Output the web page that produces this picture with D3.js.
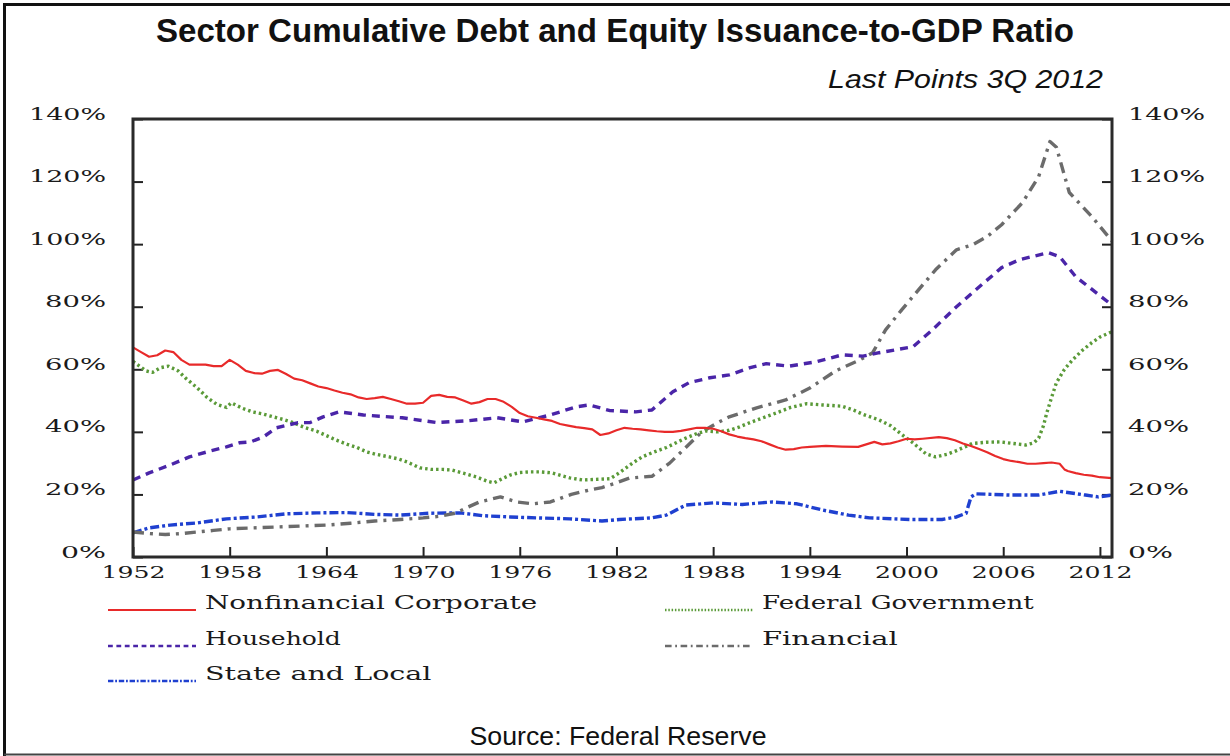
<!DOCTYPE html>
<html>
<head>
<meta charset="utf-8">
<script src="https://cdn.jsdelivr.net/npm/d3@7/dist/d3.min.js"></script>
<style>
  body { margin: 0; background: #fff; }
</style>
</head>
<body>
<div id="chart"></div>
<script>
// tick values
var yearTicks = [1952, 1958, 1964, 1970, 1976, 1982, 1988, 1994, 2000, 2006, 2012];
var pctTicks = [0, 20, 40, 60, 80, 100, 120, 140];

// series, [year, % of GDP]
var nonfinancial = [[1952,67],[1952.5,65.5],[1953,64],[1953.5,64.5],[1954,66],[1954.5,65.5],[1955,63],[1955.5,61.5],
  [1956,61.5],[1956.5,61.5],[1957,61],[1957.5,61],[1958,63],[1958.5,61.5],[1959,59.5],[1959.5,58.8],[1960,58.6],
  [1960.5,59.5],[1961,59.8],[1961.5,58.5],[1962,57],[1962.5,56.5],[1963,55.5],[1963.5,54.5],[1964,54],[1964.5,53.2],
  [1965,52.5],[1965.5,52],[1966,51],[1966.5,50.5],[1967,50.8],[1967.5,51.2],[1968,50.5],[1968.5,49.8],[1969,49],
  [1969.5,49],[1970,49.3],[1970.5,51.5],[1971,51.8],[1971.5,51.2],[1972,51],[1972.5,50],[1973,49],[1973.5,49.5],
  [1974,50.5],[1974.5,50.5],[1975,49.6],[1975.5,48],[1976,46],[1976.5,45],[1977,44.5],[1977.5,44],[1978,43.5],
  [1978.5,42.5],[1979,42],[1979.5,41.5],[1980,41.2],[1980.5,40.8],[1981,39],[1981.5,39.5],[1982,40.5],[1982.5,41.3],
  [1983,41],[1983.5,40.8],[1984,40.5],[1984.5,40.2],[1985,40],[1985.5,40],[1986,40.3],[1986.5,40.8],[1987,41.3],
  [1987.5,41.3],[1988,41],[1988.5,40.2],[1989,39.2],[1989.5,38.5],[1990,38],[1990.5,37.6],[1991,37],[1991.5,36],
  [1992,35],[1992.5,34.3],[1993,34.5],[1993.5,35],[1994,35.2],[1995,35.5],[1996,35.3],[1997,35.2],[1997.5,36],
  [1998,36.8],[1998.5,36],[1999,36.3],[1999.5,37],[2000,37.8],[2000.5,37.6],[2001,37.8],[2002,38.3],[2002.5,38],
  [2003,37.3],[2003.5,36.3],[2004,35.5],[2004.5,34.5],[2005,33.5],[2005.5,32.3],[2006,31.3],[2006.5,30.7],[2007,30.3],
  [2007.5,29.8],[2008,29.8],[2008.5,30],[2009,30.2],[2009.5,29.8],[2009.8,28],[2010,27.5],[2010.5,26.8],[2011,26.3],
  [2011.5,26],[2012,25.5],[2012.75,25.2]];

var federal = [[1952,62.5],[1952.4,61],[1952.8,59.5],[1953.2,59],[1953.7,60.5],[1954.2,61],[1954.8,59.5],[1955.3,57],
  [1956,54],[1956.6,51],[1957.2,48.8],[1957.8,47.8],[1958.1,49.3],[1958.8,47.5],[1959.4,46.4],[1960,45.8],[1960.7,44.8],
  [1961.3,44],[1961.9,43],[1962.6,41.5],[1963.4,40.2],[1964,38.8],[1964.6,37.4],[1965.3,36],[1965.9,35],[1966.5,33.6],
  [1967.1,32.8],[1967.9,32],[1968.5,31.3],[1969,30.4],[1969.8,28.5],[1970.5,28],[1971.2,28],[1971.8,27.8],[1972.5,26.8],
  [1973.3,25.6],[1974,24.2],[1974.4,23.7],[1974.9,25],[1975.4,26.2],[1976,27],[1976.6,27.2],[1977.3,27.2],[1978,26.9],
  [1978.6,26],[1979.1,25.3],[1979.9,24.6],[1980.7,24.8],[1981.6,25],[1982.2,27],[1983,30],[1983.6,32],[1984.3,33.5],
  [1985.1,35],[1985.7,36.5],[1986.3,38],[1987,39.5],[1987.6,40.3],[1988.3,40],[1989,40.5],[1989.6,41.5],[1990.3,43],
  [1991.1,44.5],[1991.9,46],[1992.8,47.8],[1993.8,49],[1994.8,48.6],[1996,48.2],[1996.7,47],[1997.3,45.6],[1998.3,43.8],
  [1999,42],[1999.5,40],[2000,38],[2000.4,36.5],[2001.2,33],[2001.8,32],[2002.5,32.8],[2003.1,34],[2004.1,36.3],
  [2005,36.7],[2005.8,36.8],[2006.6,36.3],[2007.4,35.8],[2007.9,36.5],[2008.2,38],[2008.5,42],[2008.7,46],[2009,51],
  [2009.3,55.7],[2009.8,60],[2010.3,63],[2010.9,66],[2011.5,68.5],[2012,70.3],[2012.75,72]];

var household = [[1952,24.6],[1953,26.9],[1954.3,29.4],[1955.5,32],[1956.8,33.9],[1957.8,35.2],[1958.6,36.5],
  [1959.3,36.8],[1960.1,38.4],[1960.9,41.3],[1962.2,42.9],[1963,43],[1963.8,44.8],[1964.8,46.4],[1966.3,45.4],
  [1967.3,45],[1968.7,44.5],[1970.8,43],[1972.7,43.5],[1974.6,44.5],[1976.2,43.2],[1977.9,45.4],[1979.5,48],
  [1980.3,48.6],[1981.6,46.8],[1983.2,46.4],[1984.2,47],[1985.5,52.8],[1986.5,55.7],[1987.8,57.3],[1989,58.2],
  [1990.3,60.5],[1991.3,61.8],[1992.7,61],[1994.4,62.4],[1996,64.6],[1997.3,64.2],[1998.3,65.3],[2000.4,67.2],
  [2001.6,72.6],[2003.1,80],[2004.3,85.4],[2005.9,92.5],[2007,95],[2008.8,97.3],[2009.5,96],[2010.5,89.6],[2012.75,80.5]];

var financial = [[1952,8],[1953,7.5],[1954,7.2],[1955,7.5],[1956,8],[1957,8.5],[1958,9],[1959.5,9.3],[1961,9.6],
  [1962.5,9.9],[1964,10.2],[1965.5,10.8],[1967,11.5],[1968.6,12],[1970,12.5],[1971,13],[1972,14],[1972.8,16],
  [1973.5,17.6],[1974.8,19.2],[1975.8,17.6],[1976.8,17],[1977.9,17.6],[1979.2,20],[1980.3,21.4],[1981.1,22.2],
  [1982,23.7],[1982.8,25.2],[1984.2,25.8],[1985.3,30],[1986.3,35],[1987.3,40],[1988.3,43],[1989,44.8],[1990.7,47.7],
  [1992.5,50.2],[1994,54],[1995.6,59.5],[1997.1,63],[1997.9,65.3],[1998.7,72.6],[1999.7,79],[2000.6,84.5],[2001.8,91.8],
  [2003.1,98.2],[2004.1,99.8],[2005,102.4],[2005.9,106.2],[2007.2,113.3],[2008.2,121.6],[2008.9,132.8],[2009.3,131],
  [2010.1,116.5],[2011.5,108.8],[2012.75,101]];

var stateLocal = [[1952,7.7],[1953,9.3],[1954.3,10.2],[1956,10.9],[1957.8,12.2],[1959.7,12.8],[1961.5,13.8],
  [1963.4,14.1],[1965.3,14.2],[1967.1,13.6],[1968.6,13.4],[1970.4,14],[1972.3,14.1],[1973.7,13.2],[1975.4,12.8],
  [1977,12.5],[1979.1,12.2],[1981.1,11.5],[1982.2,12],[1984.2,12.5],[1985.1,13.4],[1986.3,16.6],[1988,17.3],
  [1989.8,16.8],[1991.7,17.6],[1993.2,17],[1994.8,15],[1996.4,13.4],[1997.7,12.5],[2000.2,12],[2002.2,12],
  [2003.1,12.8],[2003.7,14],[2004,19.2],[2004.3,20.2],[2006.4,19.8],[2008.2,19.8],[2009.5,21],[2011.1,19.8],
  [2011.9,19.2],[2012.75,19.8]];

var seriesNames = ["Nonfinancial Corporate", "Federal Government", "Household", "Financial", "State and Local"];

// line styles for each series
var series = [
  {name: seriesNames[0], data: nonfinancial, color: "#e82a2a", dash: null,          w: 2.2, lx: 108, ly: 610},
  {name: seriesNames[1], data: federal,      color: "#5a9a38", dash: "2.5,3",       w: 3.4, lx: 665, ly: 610},
  {name: seriesNames[2], data: household,    color: "#4a25a8", dash: "8,6",         w: 3.4, lx: 108, ly: 646},
  {name: seriesNames[3], data: financial,    color: "#6b6b6b", dash: "11,6,3,6",    w: 3.4, lx: 665, ly: 646},
  {name: seriesNames[4], data: stateLocal,   color: "#1f40d0", dash: "9,3,3,3",     w: 3.4, lx: 108, ly: 681}
];

var margin = {top: 119, right: 118, bottom: 199, left: 133},
    width = 1230 - margin.left - margin.right,
    height = 756 - margin.top - margin.bottom;

var svg = d3.select("#chart")
  .append("svg")
    .attr("width", 1230)
    .attr("height", 756);

// outer frame (left, top, bottom)
svg.append("path")
  .attr("d", "M4.5,756 L4.5,4.5 L1230,4.5")
  .attr("fill", "none")
  .attr("stroke", "#111")
  .attr("stroke-width", 3);
svg.append("line")
  .attr("x1", 4).attr("x2", 1230).attr("y1", 754.5).attr("y2", 754.5)
  .attr("stroke", "#444").attr("stroke-width", 2);

// title
svg.append("text")
  .attr("x", 615).attr("y", 42)
  .attr("text-anchor", "middle")
  .attr("textLength", 918).attr("lengthAdjust", "spacingAndGlyphs")
  .style("font-family", "'Liberation Sans Narrow', 'Liberation Sans', Arial, sans-serif")
  .style("font-weight", "bold")
  .style("font-size", "34px")
  .style("fill", "#111")
  .text("Sector Cumulative Debt and Equity Issuance-to-GDP Ratio");

svg.append("text")
  .attr("x", 1103).attr("y", 88)
  .attr("text-anchor", "end")
  .attr("textLength", 275).attr("lengthAdjust", "spacingAndGlyphs")
  .style("font-family", "'Liberation Sans Narrow', 'Liberation Sans', Arial, sans-serif")
  .style("font-style", "italic")
  .style("font-size", "26px")
  .style("fill", "#111")
  .text("Last Points  3Q  2012");

var g = svg.append("g")
  .attr("transform", "translate(" + margin.left + "," + margin.top + ")");

var x = d3.scaleLinear()
  .domain([1952, 2012.75])
  .range([0, width]);

var y = d3.scaleLinear()
  .domain([0, 140])
  .range([height, 0]);

function labelLen(s) {
  var n = 0;
  for (var i = 0; i < s.length; i++) n += (s[i] == "%") ? 29 : 16;
  return n;
}

function styleAxis(sel) {
  sel.select(".domain").remove();
  sel.selectAll(".tick line").attr("stroke", "#222").attr("stroke-width", 2);
  sel.selectAll(".tick text")
    .attr("dy", 0)
    .attr("textLength", function() { return labelLen(this.textContent); })
    .attr("lengthAdjust", "spacingAndGlyphs")
    .style("font-family", "'DejaVu Serif', 'Liberation Serif', serif")
    .style("font-size", "17px")
    .style("fill", "#1a1a1a");
}

var fmtPct = function(d) { return d + "%"; };

// left axis
g.append("g")
  .call(d3.axisLeft(y).tickValues(pctTicks).tickFormat(fmtPct).tickSizeInner(-10).tickSizeOuter(0).tickPadding(27))
  .call(styleAxis);

// right axis
g.append("g")
  .attr("transform", "translate(" + width + ",0)")
  .call(d3.axisRight(y).tickValues(pctTicks).tickFormat(fmtPct).tickSizeInner(-10).tickSizeOuter(0).tickPadding(16))
  .call(styleAxis);

// bottom axis
var xAxis = g.append("g")
  .attr("transform", "translate(0," + height + ")")
  .call(d3.axisBottom(x).tickValues(yearTicks).tickFormat(d3.format("d")).tickSizeInner(-10).tickSizeOuter(0).tickPadding(8))
  .call(styleAxis);
xAxis.selectAll(".tick text").attr("dy", "0.75em");

// lines
var line = d3.line()
  .x(function(d) { return x(d[0]); })
  .y(function(d) { return y(d[1]); });

// draw order: back to front
[4, 3, 1, 2, 0].forEach(function(i) {
  var s = series[i];
  g.append("path")
    .datum(s.data)
    .attr("d", line)
    .attr("fill", "none")
    .attr("stroke", s.color)
    .attr("stroke-width", s.w)
    .attr("stroke-dasharray", s.dash)
    .attr("stroke-linejoin", "round");
});

// plot frame
g.append("rect")
  .attr("x", 0).attr("y", 0)
  .attr("width", width).attr("height", height)
  .attr("fill", "none")
  .attr("stroke", "#2a2a2a")
  .attr("stroke-width", 3);

// legend
var legend = svg.append("g");
series.forEach(function(s) {
  legend.append("line")
    .attr("x1", s.lx).attr("x2", s.lx + 88)
    .attr("y1", s.ly).attr("y2", s.ly)
    .attr("stroke", s.color)
    .attr("stroke-width", s.dash ? 2.6 : 2)
    .attr("stroke-dasharray", s.dash ? s.dash.split(",").map(function(v) { return v * 0.6; }).join(",") : null);
  legend.append("text")
    .attr("x", s.lx + 97).attr("y", s.ly - 1)
    .attr("textLength", s.name.length * 15.1)
    .attr("lengthAdjust", "spacingAndGlyphs")
    .style("font-family", "'DejaVu Serif', 'Liberation Serif', serif")
    .style("font-size", "18px")
    .style("fill", "#1a1a1a")
    .text(s.name);
});

// source note
svg.append("text")
  .attr("x", 618).attr("y", 745)
  .attr("text-anchor", "middle")
  .attr("textLength", 297).attr("lengthAdjust", "spacingAndGlyphs")
  .style("font-family", "'Liberation Sans Narrow', 'Liberation Sans', Arial, sans-serif")
  .style("font-size", "25px")
  .style("fill", "#111")
  .text("Source: Federal Reserve");
</script>
</body>
</html>
